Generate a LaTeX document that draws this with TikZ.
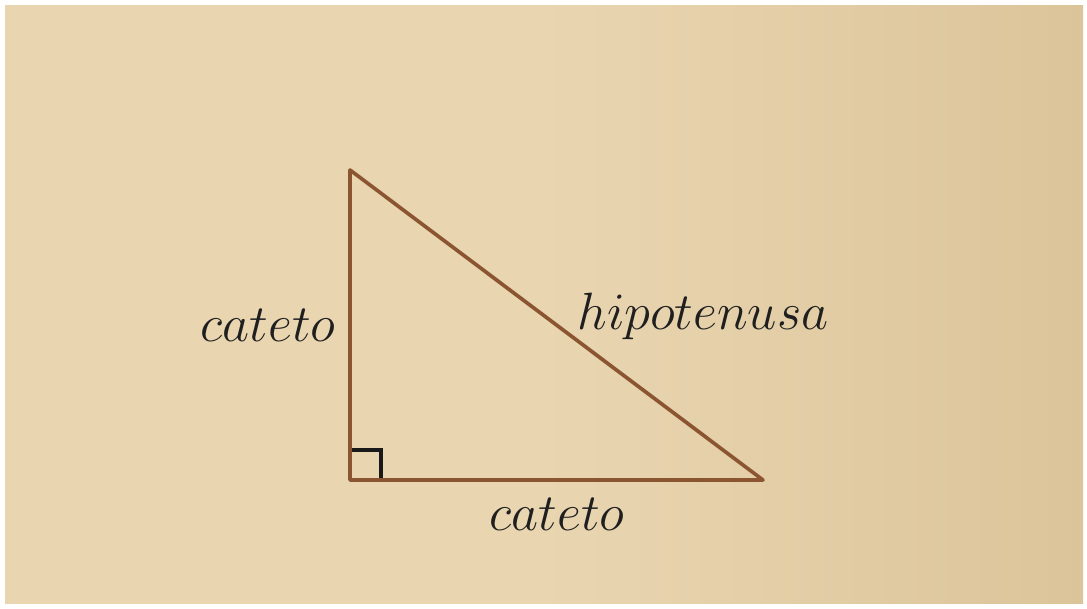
\documentclass[tikz,border=0pt]{standalone}
\usepackage{amsmath}
\usepackage{xcolor}
\usetikzlibrary{positioning, calc}
\definecolor{paper}{HTML}{E9D6B1}
\definecolor{paperdark}{HTML}{DCC49A}
\definecolor{legbrown}{HTML}{8A5530}
\colorlet{marksoft}{black!90}

\begin{document}
\begin{tikzpicture}[
    x=0.025cm, y=-0.025cm,
    side/.style={draw=legbrown, line width=2.6pt, line join=round},
    rightmark/.style={draw=marksoft, line width=2.2pt},
    lbl/.style={font=\fontsize{24.88}{28}\selectfont, scale=1.5, text=black!88, inner sep=0pt},
]

% ===== Paper background =====
\fill[white] (0,0) rectangle (1087,608);
\shade[left color=paper, right color=paperdark, middle color=paper!98!paperdark] (5,5) rectangle (1083,603);
\useasboundingbox (0,0) rectangle (1087,608);

% ===== Triangle corners =====
\coordinate (top) at (350,170);
\coordinate (corner) at (350,480);
\coordinate (tip) at (763,480);

% ===== Right-angle mark =====
\coordinate (sqa) at (350,450);
\coordinate (sqb) at (381,450);
\coordinate (sqc) at (381,480);
\draw[rightmark] (sqa) -- (sqb) -- (sqc);

% ===== Sides =====
\draw[side] (top) -- (corner) -- (tip) -- cycle;

% ===== Labels =====
\node[lbl] (legv) at (268,325) {$cateto$};
\node[lbl] (legh) at (557,514) {$cateto$};
\node[lbl] (hyp) at (703,316) {$hipotenusa$};

\end{tikzpicture}
\end{document}
